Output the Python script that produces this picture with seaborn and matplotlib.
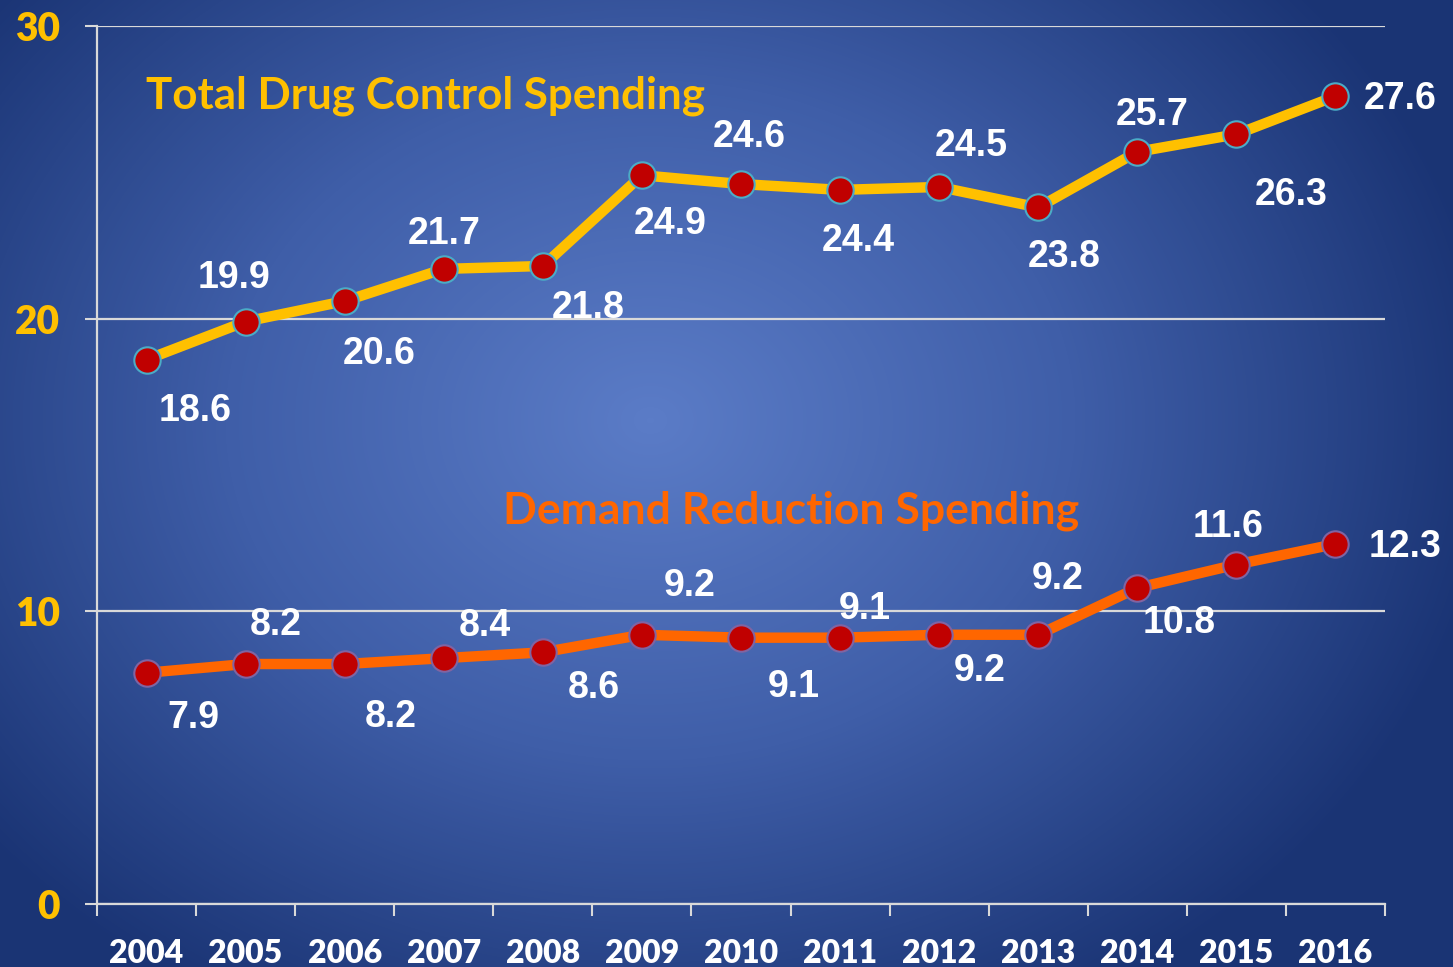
import numpy as np
import pandas as pd
import matplotlib
matplotlib.use("Agg")
import matplotlib.pyplot as plt
import seaborn as sns
from matplotlib.colors import LinearSegmentedColormap

# ---- data ----
years = [2004, 2005, 2006, 2007, 2008, 2009, 2010, 2011, 2012, 2013, 2014, 2015, 2016]
total_spending = [18.6, 19.9, 20.6, 21.7, 21.8, 24.9, 24.6, 24.4, 24.5, 23.8, 25.7, 26.3, 27.6]
demand_spending = [7.9, 8.2, 8.2, 8.4, 8.6, 9.2, 9.1, 9.1, 9.2, 9.2, 10.8, 11.6, 12.3]
y_ticks = [0, 10, 20, 30]
series_names = ["Total Drug Control Spending", "Demand Reduction Spending"]

# ---- label offsets (pixels) ----
total_offsets = [(49, -51), (-12, 44), (34, -53), (0, 35), (45, -42), (28, -49), (8, 47),
                 (18, -51), (32, 41), (26, -50), (15, 37), (55, -61), (65, -3)]
demand_offsets = [(47, -45), (30, 39), (46, -53), (41, 32), (51, -36), (48, 49), (53, -49),
                  (25, 29), (41, -36), (19, 56), (42, -35), (-8, 38), (70, -3)]

sns.set_theme(style="white")
plt.rcParams["font.family"] = ["Liberation Sans", "DejaVu Sans"]

W, H, DPI = 1453, 967, 100
fig = plt.figure(figsize=(W / DPI, H / DPI), dpi=DPI)

# background radial gradient
bg = fig.add_axes([0, 0, 1, 1], zorder=0)
yy, xx = np.mgrid[0:H, 0:W]
cx, cy = 650, 420
r = np.sqrt(((xx - cx) / 1000.0) ** 2 + ((yy - cy) / 800.0) ** 2)
r = np.clip(r / 0.85, 0, 1)
cmap = LinearSegmentedColormap.from_list("bg", ["#5b7cc7", "#3f5ea8", "#1a3474"])
bg.imshow(r, cmap=cmap, aspect="auto", extent=[0, 1, 0, 1], origin="upper", vmin=0, vmax=1)
bg.axis("off")

ax = fig.add_axes([97 / W, 1 - 904 / H, (1385 - 97) / W, (904 - 26) / H], zorder=1)
ax.set_facecolor("none")

df = pd.DataFrame({
    "year": years * 2,
    "value": total_spending + demand_spending,
    "series": [series_names[0]] * len(years) + [series_names[1]] * len(years),
})

line_colors = {series_names[0]: "#FFC000", series_names[1]: "#FF6600"}
edge_colors = {series_names[0]: "#4BACC6", series_names[1]: "#8064A2"}

for name in series_names:
    sub = df[df["series"] == name]
    sns.lineplot(data=sub, x="year", y="value", ax=ax, color=line_colors[name],
                 linewidth=7.5, marker="o", markersize=19,
                 markerfacecolor="#C00000", markeredgecolor=edge_colors[name],
                 markeredgewidth=1.5, legend=False, zorder=3)

for vals, offs in ((total_spending, total_offsets), (demand_spending, demand_offsets)):
    for x, v, (dx, dy) in zip(years, vals, offs):
        ax.annotate(f"{v:.1f}", (x, v), xytext=(dx, dy), textcoords="offset pixels",
                    ha="center", va="center", color="white", fontsize=27,
                    fontweight="bold", family=["Liberation Sans", "DejaVu Sans"], zorder=4)

ax.text(0.2547, 0.9200, series_names[0], transform=ax.transAxes, ha="center", va="center",
        color="#FFC000", fontsize=31.6, fontweight="bold", family=["Lato", "DejaVu Sans"])
ax.text(0.5388, 0.4476, series_names[1], transform=ax.transAxes, ha="center", va="center",
        color="#FF6600", fontsize=32, fontweight="bold", family=["Lato", "DejaVu Sans"])

ax.set_xlim(years[0] - 0.5, years[-1] + 0.5)
ax.set_ylim(0, 30)
ax.set_yticks(y_ticks)
ax.set_yticklabels([str(t) for t in y_ticks], fontsize=28, fontweight="heavy",
                   color="#FFC000", family=["Lato", "DejaVu Sans"])
ax.set_xticks(years)
ax.set_xticklabels([str(y) for y in years], fontsize=23, fontweight="heavy",
                   color="white", family=["Lato", "DejaVu Sans"])
ax.set_xticks([y - 0.5 for y in years] + [years[-1] + 0.5], minor=True)
ax.set_xlabel("")
ax.set_ylabel("")

grid_c = "#d9d9d9"
ax.yaxis.grid(True, color=grid_c, linewidth=1.6, zorder=1)
ax.xaxis.grid(False)
for s in ["top", "right"]:
    ax.spines[s].set_visible(False)
for s in ["left", "bottom"]:
    ax.spines[s].set_color(grid_c)
    ax.spines[s].set_linewidth(1.6)

ax.tick_params(axis="x", which="major", length=0, pad=25)
ax.tick_params(axis="x", which="minor", length=8.5, width=1.5, color=grid_c, bottom=True)
ax.tick_params(axis="y", which="major", length=8.5, width=1.5, color=grid_c, left=True, pad=18)

fig.savefig("out.png", dpi=DPI)
